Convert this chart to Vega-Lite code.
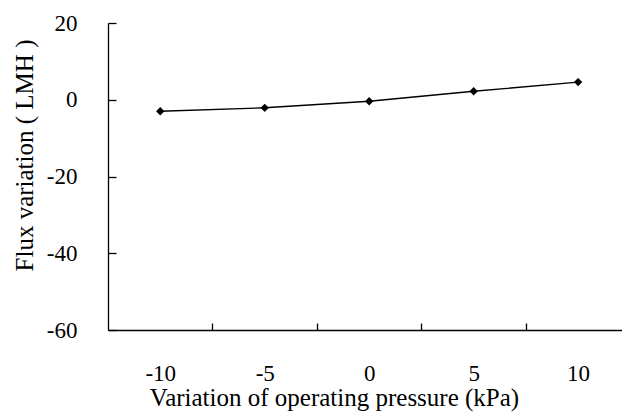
{
  "$schema": "https://vega.github.io/schema/vega-lite/v6.json",
  "autosize": {"type": "none"},
  "width": 514,
  "height": 307,
  "padding": {"left": 108, "top": 23, "right": 0, "bottom": 88},
  "background": "white",
  "config": {
    "view": {"stroke": null},
    "font": "Liberation Serif",
    "axis": {
      "grid": false,
      "domainColor": "#000000",
      "domainWidth": 1.3,
      "tickColor": "#000000",
      "tickWidth": 1.3,
      "labelColor": "#000000",
      "titleColor": "#000000",
      "titleFontWeight": "normal"
    }
  },
  "data": {
    "values": [
      {"pressure": -10, "flux": -3.0},
      {"pressure": -5, "flux": -2.1},
      {"pressure": 0, "flux": -0.4},
      {"pressure": 5, "flux": 2.2},
      {"pressure": 10, "flux": 4.6}
    ]
  },
  "encoding": {
    "x": {
      "field": "pressure",
      "type": "quantitative",
      "scale": {"domain": [-12.5, 12.1], "nice": false, "zero": false},
      "axis": {
        "title": "Variation of operating pressure (kPa)",
        "values": [-10, -7.5, -5, -2.5, 0, 2.5, 5, 7.5, 10],
        "tickSize": -7,
        "tickOpacity": {"condition": {"test": "datum.value % 5 === 0", "value": 0}, "value": 1},
        "labelExpr": "datum.value % 5 === 0 ? '' + datum.value : ''",
        "labelFont": "Liberation Serif",
        "labelFontSize": 23,
        "labelPadding": 57,
        "labelBaseline": "alphabetic",
        "labelFlush": false,
        "titleFont": "Liberation Serif",
        "titleFontSize": 25,
        "titleX": 226,
        "titleY": 75,
        "titleBaseline": "alphabetic",
        "titleAnchor": "middle"
      }
    },
    "y": {
      "field": "flux",
      "type": "quantitative",
      "scale": {"domain": [-60, 20], "nice": false, "zero": false},
      "axis": {
        "title": "Flux variation ( LMH )",
        "values": [-60, -40, -20, 0, 20],
        "tickSize": -8,
        "labelExpr": "'' + datum.value",
        "labelFont": "Liberation Serif",
        "labelFontSize": 23,
        "labelPadding": 39,
        "labelFlush": false,
        "titleFont": "Liberation Serif",
        "titleFontSize": 25,
        "titleAngle": -90,
        "titleX": -76,
        "titleY": 132,
        "titleBaseline": "alphabetic",
        "titleAnchor": "middle"
      }
    }
  },
  "layer": [
    {"mark": {"type": "line", "color": "#000000", "strokeWidth": 1.4}},
    {"mark": {"type": "point", "shape": "diamond", "filled": true, "color": "#000000", "opacity": 1, "size": 70}}
  ]
}
